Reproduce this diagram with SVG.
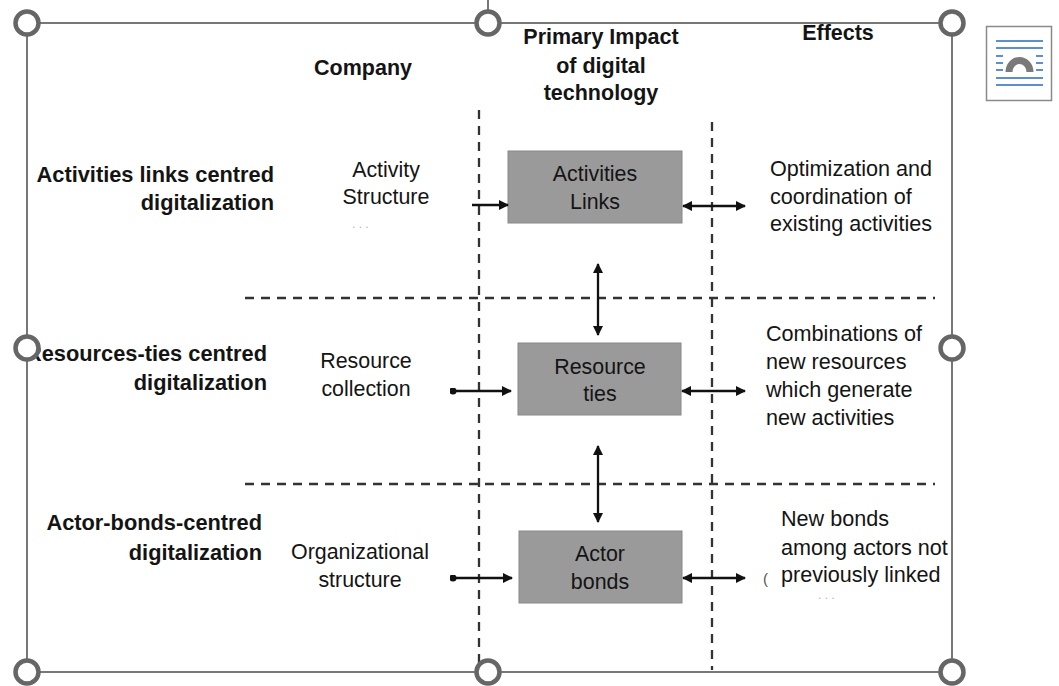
<svg xmlns="http://www.w3.org/2000/svg" width="1059" height="686" viewBox="0 0 1059 686">
  <style>
    text { font-family: "Liberation Sans", Arial, Helvetica, sans-serif; fill: #141414; }
    .hdr { font-size: 21.5px; font-weight: bold; text-anchor: middle; }
    .row { font-size: 21.8px; font-weight: bold; text-anchor: end; }
    .mid { font-size: 21.4px; text-anchor: middle; }
    .eff { font-size: 21.6px; text-anchor: start; }
    .faint { font-size: 12px; fill: #b5b5b5; }
    .box { fill: #9a9a9a; stroke: #888; stroke-width: 1; }
    .dash { stroke: #333; stroke-width: 2.3; stroke-dasharray: 9 7; fill: none; }
    .arrow { stroke: #111; stroke-width: 2.3; fill: none; }
    .frame { stroke: #777; stroke-width: 2; fill: none; }
    .handle { fill: #fff; stroke: #666; stroke-width: 4.5; }
    .blue { stroke: #5a8fd0; stroke-width: 2; }
  </style>
  <defs>
    <marker id="head" viewBox="0 0 10 10" refX="9" refY="5" markerWidth="11" markerHeight="10" markerUnits="userSpaceOnUse" orient="auto-start-reverse">
      <path d="M0,0 L10,5 L0,10 Z" fill="#111"/>
    </marker>
    <marker id="dot" viewBox="0 0 10 10" refX="5" refY="5" markerWidth="7" markerHeight="7" markerUnits="userSpaceOnUse">
      <circle cx="5" cy="5" r="5" fill="#111"/>
    </marker>
  </defs>

  <rect width="1059" height="686" fill="#fff"/>

  <!-- column headers -->
  <g id="headers">
    <text class="hdr" x="363" y="75">Company</text>
    <text class="hdr" x="601" y="44">Primary Impact</text>
    <text class="hdr" x="601" y="73">of digital</text>
    <text class="hdr" x="601" y="100">technology</text>
    <text class="hdr" x="838" y="40">Effects</text>
  </g>

  <!-- dashed grid lines -->
  <g id="grid">
    <line class="dash" x1="479" y1="110" x2="479" y2="668"/>
    <line class="dash" x1="712" y1="122" x2="712" y2="670"/>
    <line class="dash" x1="245" y1="298" x2="935" y2="298"/>
    <line class="dash" x1="245" y1="484" x2="935" y2="484"/>
  </g>

  <!-- row labels -->
  <g id="row-activities">
    <text class="row" x="274" y="182">Activities links centred</text>
    <text class="row" x="274" y="210">digitalization</text>
  </g>
  <g id="row-resources">
    <text class="row" x="267" y="361">Resources-ties centred</text>
    <text class="row" x="267" y="390">digitalization</text>
  </g>
  <g id="row-actors">
    <text class="row" x="262" y="530">Actor-bonds-centred</text>
    <text class="row" x="262" y="560">digitalization</text>
  </g>

  <!-- company column -->
  <g id="company-activity">
    <text class="mid" x="386" y="177">Activity</text>
    <text class="mid" x="386" y="204">Structure</text>
    <text class="faint" x="352" y="228">. . .</text>
  </g>
  <g id="company-resource">
    <text class="mid" x="366" y="368">Resource</text>
    <text class="mid" x="366" y="396">collection</text>
  </g>
  <g id="company-org">
    <text class="mid" x="360" y="559">Organizational</text>
    <text class="mid" x="360" y="587">structure</text>
  </g>

  <!-- primary impact boxes -->
  <g id="box-activities">
    <rect class="box" x="508" y="151" width="174" height="72"/>
    <text class="mid" x="595" y="181">Activities</text>
    <text class="mid" x="595" y="209">Links</text>
  </g>
  <g id="box-resources">
    <rect class="box" x="518" y="343" width="163" height="72"/>
    <text class="mid" x="600" y="374">Resource</text>
    <text class="mid" x="600" y="401">ties</text>
  </g>
  <g id="box-actors">
    <rect class="box" x="519" y="531" width="163" height="72"/>
    <text class="mid" x="600" y="561">Actor</text>
    <text class="mid" x="600" y="589">bonds</text>
  </g>

  <!-- effects column -->
  <g id="effect-activities">
    <text class="eff" x="770" y="176">Optimization and</text>
    <text class="eff" x="770" y="204">coordination of</text>
    <text class="eff" x="770" y="231">existing activities</text>
  </g>
  <g id="effect-resources">
    <text class="eff" x="766" y="341">Combinations of</text>
    <text class="eff" x="766" y="369">new resources</text>
    <text class="eff" x="766" y="397">which generate</text>
    <text class="eff" x="766" y="425">new activities</text>
  </g>
  <g id="effect-actors">
    <text class="eff" x="781" y="526">New bonds</text>
    <text class="eff" x="781" y="555">among actors not</text>
    <text class="eff" x="781" y="582">previously linked</text>
    <text x="763" y="584" style="font-size:15px;fill:#555">(</text>
    <text class="faint" x="818" y="599">. . .</text>
  </g>

  <!-- connectors -->
  <g id="connectors">
    <line class="arrow" x1="472" y1="205" x2="508" y2="205" marker-end="url(#head)"/>
    <line class="arrow" x1="683" y1="206" x2="745" y2="206" marker-start="url(#head)" marker-end="url(#head)"/>
    <line class="arrow" x1="598" y1="264" x2="598" y2="335" marker-start="url(#head)" marker-end="url(#head)"/>
    <line class="arrow" x1="453" y1="391" x2="511" y2="391" marker-start="url(#dot)" marker-end="url(#head)"/>
    <line class="arrow" x1="682" y1="391" x2="745" y2="391" marker-start="url(#head)" marker-end="url(#head)"/>
    <line class="arrow" x1="598" y1="446" x2="598" y2="522" marker-start="url(#head)" marker-end="url(#head)"/>
    <line class="arrow" x1="453" y1="578" x2="512" y2="578" marker-start="url(#dot)" marker-end="url(#head)"/>
    <line class="arrow" x1="683" y1="578" x2="745" y2="578" marker-start="url(#head)" marker-end="url(#head)"/>
  </g>

  <!-- selection frame and sizing handles -->
  <g id="selection">
    <line class="frame" x1="488" y1="0" x2="488" y2="23"/>
    <rect class="frame" x="27" y="23" width="925" height="649"/>
    <circle class="handle" cx="27" cy="23" r="11.5"/>
    <circle class="handle" cx="488" cy="23" r="11.5"/>
    <circle class="handle" cx="952" cy="23" r="11.5"/>
    <circle class="handle" cx="27" cy="348" r="11.5"/>
    <circle class="handle" cx="952" cy="348" r="11.5"/>
    <circle class="handle" cx="27" cy="672" r="11.5"/>
    <circle class="handle" cx="488" cy="672" r="11.5"/>
    <circle class="handle" cx="952" cy="672" r="11.5"/>
  </g>

  <!-- layout options button -->
  <g id="layout-options">
    <rect x="986.5" y="26.5" width="65" height="74" fill="#fff" stroke="#8a8a8a" stroke-width="1.5"/>
    <line class="blue" x1="996" y1="41" x2="1043" y2="41"/>
    <line class="blue" x1="996" y1="48" x2="1043" y2="48"/>
    <line class="blue" x1="996" y1="56" x2="1003" y2="56"/>
    <line class="blue" x1="1036" y1="56" x2="1043" y2="56"/>
    <line class="blue" x1="996" y1="63" x2="1003" y2="63"/>
    <line class="blue" x1="1036" y1="63" x2="1043" y2="63"/>
    <line class="blue" x1="996" y1="70" x2="1003" y2="70"/>
    <line class="blue" x1="1036" y1="70" x2="1043" y2="70"/>
    <line class="blue" x1="996" y1="78" x2="1043" y2="78"/>
    <line class="blue" x1="996" y1="85" x2="1043" y2="85"/>
    <path d="M1009,72 A10.5,11.5 0 0 1 1030,72" fill="none" stroke="#7a7a7a" stroke-width="7"/>
  </g>
</svg>
